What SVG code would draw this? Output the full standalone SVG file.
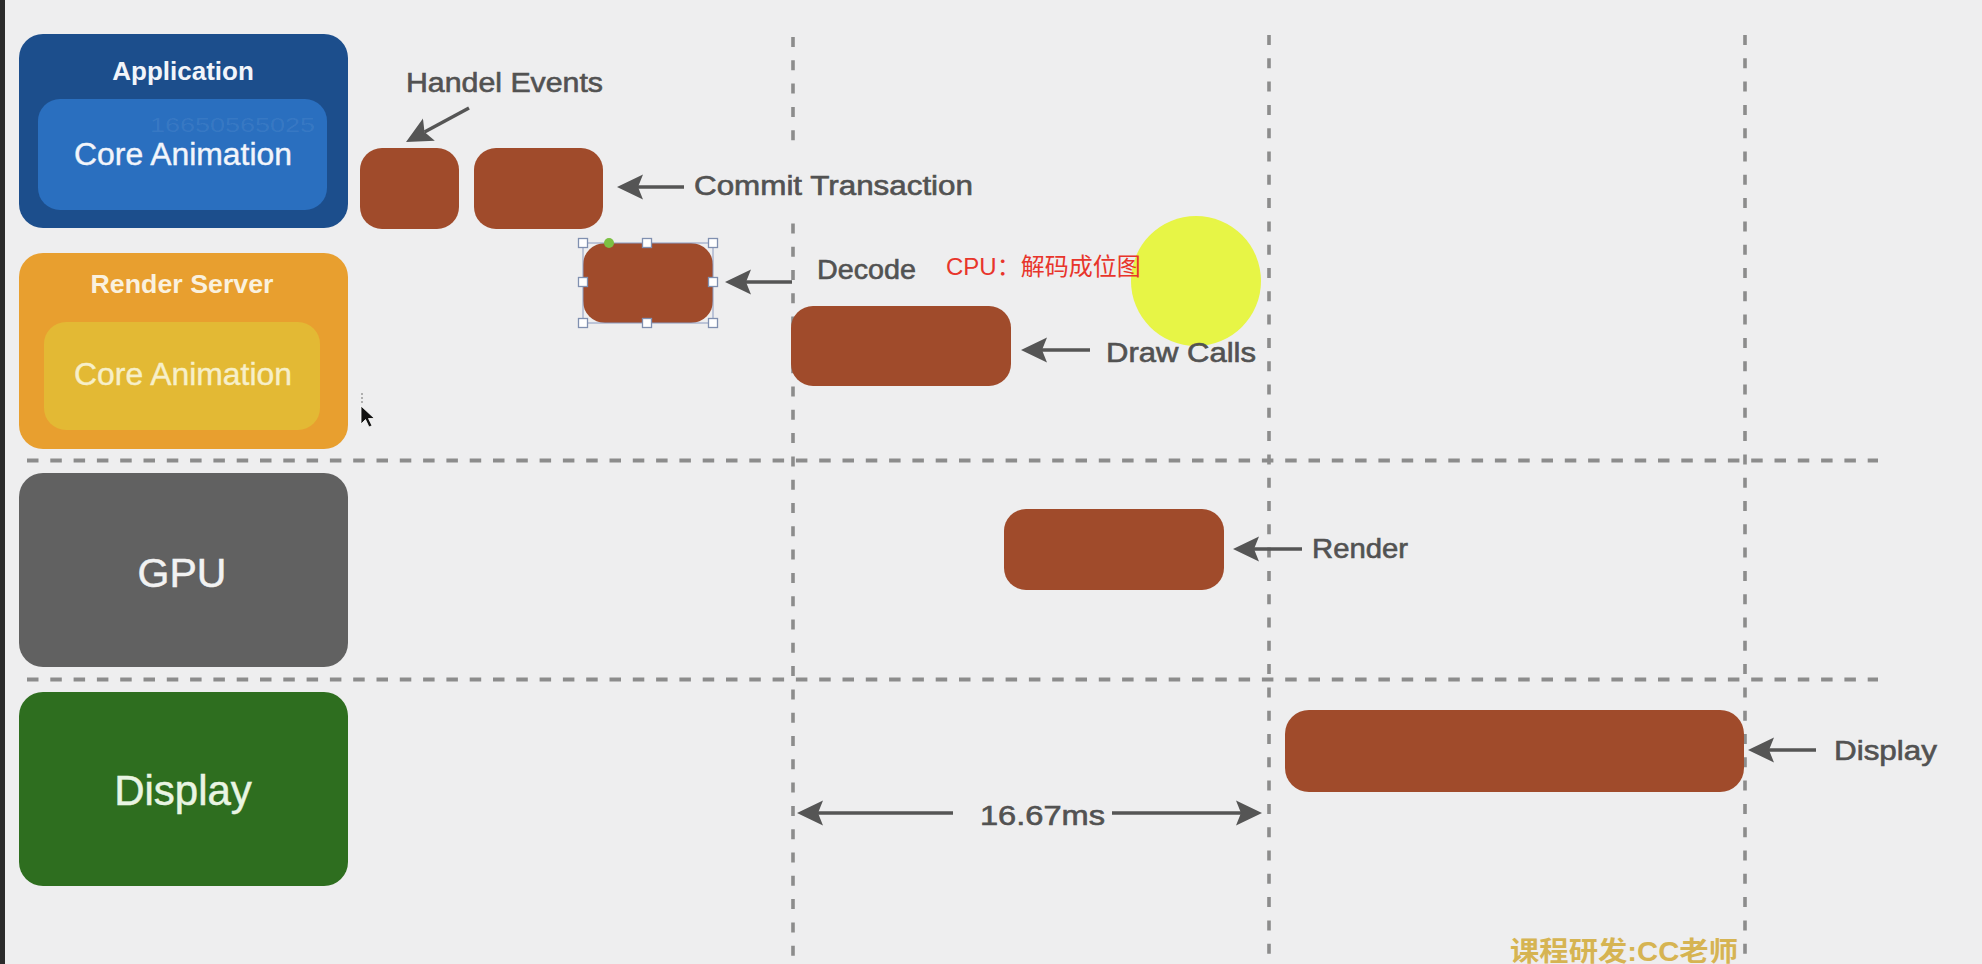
<svg xmlns="http://www.w3.org/2000/svg" width="1982" height="964" viewBox="0 0 1982 964">
<style>
.bg{fill:#eeeeef}
.hd{stroke:#8c8c8c;stroke-width:4.2;stroke-dasharray:11.5 11.8;fill:none}
.vd{stroke:#8c8c8c;stroke-width:3.6;stroke-dasharray:10 13.3;fill:none}
.bar{fill:#a04b2b}
.ttl{font-family:"Liberation Sans",Arial,sans-serif;text-anchor:middle}
.ann{font-family:"Liberation Sans",Arial,sans-serif;font-size:27px;fill:#525252;stroke:#525252;stroke-width:0.6}
.arr{stroke:#555555;stroke-width:3.5;fill:none;marker-end:url(#ah)}
.hdl{fill:#ffffff;stroke:#8090b0;stroke-width:1.3}
</style>
<defs>
<marker id="ah" viewBox="0 0 26 26" refX="5" refY="13" markerWidth="26" markerHeight="26" markerUnits="userSpaceOnUse" orient="auto">
<path d="M26,13 L0,0.5 L5,13 L0,25.5 Z" fill="#555555"/>
</marker>
</defs>
<rect class="bg" x="0" y="0" width="1982" height="964"/>
<rect x="0" y="0" width="5" height="964" fill="#2b2b2b"/>

<g id="grid">
<line class="hd" x1="27" y1="460.5" x2="1878" y2="460.5"/>
<line class="hd" x1="27" y1="679.5" x2="1878" y2="679.5"/>
<line class="vd" x1="793" y1="37" x2="793" y2="964"/>
<line class="vd" x1="1269" y1="35" x2="1269" y2="964"/>
<line class="vd" x1="1745" y1="35" x2="1745" y2="964"/>
</g>

<g id="application">
<rect x="19" y="34" width="329" height="194" rx="24" fill="#1c4e8c"/>
<rect x="38" y="99" width="289" height="111" rx="22" fill="#2a6fbf"/>
<text class="ttl" x="183" y="80" font-size="26" font-weight="bold" fill="#f2f5fa">Application</text>
<text x="150" y="132" font-family="Liberation Sans,Arial,sans-serif" font-size="21" fill="#ffffff" fill-opacity="0.07" textLength="165" lengthAdjust="spacingAndGlyphs">16650565025</text>
<text class="ttl" x="183" y="165" font-size="31" fill="#f2f5fb" stroke="#f2f5fb" stroke-width="0.4" textLength="218" lengthAdjust="spacingAndGlyphs">Core Animation</text>
</g>

<g id="render-server">
<rect x="19" y="253" width="329" height="196" rx="24" fill="#e89f2f"/>
<rect x="44" y="322" width="276" height="108" rx="22" fill="#e3b934"/>
<text class="ttl" x="182" y="293" font-size="25" font-weight="bold" fill="#faf1de" textLength="183" lengthAdjust="spacingAndGlyphs">Render Server</text>
<text class="ttl" x="183" y="385" font-size="31" fill="#f7efc9" stroke="#f7efc9" stroke-width="0.4" textLength="218" lengthAdjust="spacingAndGlyphs">Core Animation</text>
</g>

<g id="gpu">
<rect x="19" y="473" width="329" height="194" rx="24" fill="#616161"/>
<text class="ttl" x="182" y="587" font-size="41" fill="#f2f2f2" stroke="#f2f2f2" stroke-width="0.5">GPU</text>
</g>

<g id="display">
<rect x="19" y="692" width="329" height="194" rx="24" fill="#2e6e1f"/>
<text class="ttl" x="183" y="805" font-size="42" fill="#e9f5e3" stroke="#e9f5e3" stroke-width="0.5">Display</text>
</g>

<g id="bar-handle-events"><rect class="bar" x="360" y="148" width="99" height="81" rx="22"/></g>
<g id="bar-commit"><rect class="bar" x="474" y="148" width="129" height="81" rx="22"/></g>
<g id="bar-decode">
<rect class="bar" x="583" y="243" width="130" height="80" rx="22"/>
<rect x="583" y="243" width="130" height="80" fill="none" stroke="#8a9ac0" stroke-width="1"/>
<rect class="hdl" x="578.5" y="238.5" width="9" height="9"/>
<rect class="hdl" x="642.5" y="238.5" width="9" height="9"/>
<rect class="hdl" x="708.5" y="238.5" width="9" height="9"/>
<rect class="hdl" x="578.5" y="277.5" width="9" height="9"/>
<rect class="hdl" x="708.5" y="277.5" width="9" height="9"/>
<rect class="hdl" x="578.5" y="318.5" width="9" height="9"/>
<rect class="hdl" x="642.5" y="318.5" width="9" height="9"/>
<rect class="hdl" x="708.5" y="318.5" width="9" height="9"/>
<circle cx="609" cy="243" r="5" fill="#7cc043"/>
</g>
<g id="bar-draw-calls"><rect class="bar" x="791" y="306" width="220" height="80" rx="22"/></g>
<g id="bar-render"><rect class="bar" x="1004" y="509" width="220" height="81" rx="22"/></g>
<g id="bar-display"><rect class="bar" x="1285" y="710" width="459" height="82" rx="24"/></g>

<circle id="cursor-highlight" cx="1196" cy="281" r="65" fill="#e6f43c" fill-opacity="0.95"/>

<rect class="bg" x="688" y="152" width="292" height="67"/>

<g id="connectors">
<line class="arr" x1="469" y1="108" x2="424.5" y2="132"/>
<line class="arr" x1="684" y1="187" x2="638" y2="187"/>
<line class="arr" x1="792" y1="282" x2="746" y2="282"/>
<line class="arr" x1="1090" y1="350" x2="1042" y2="350"/>
<line class="arr" x1="1302" y1="549" x2="1254" y2="549"/>
<line class="arr" x1="1816" y1="750" x2="1769" y2="750"/>
<line class="arr" x1="953" y1="813" x2="818" y2="813"/>
<line class="arr" x1="1112" y1="813" x2="1241" y2="813"/>
</g>

<g id="labels">
<text class="ann" x="406" y="92" textLength="197" lengthAdjust="spacingAndGlyphs">Handel Events</text>
<text class="ann" x="694" y="195" textLength="279" lengthAdjust="spacingAndGlyphs">Commit Transaction</text>
<text class="ann" x="817" y="279" textLength="99" lengthAdjust="spacingAndGlyphs">Decode</text>
<text class="ann" x="1106" y="362" textLength="150" lengthAdjust="spacingAndGlyphs">Draw Calls</text>
<text class="ann" x="1312" y="558" textLength="96" lengthAdjust="spacingAndGlyphs">Render</text>
<text class="ann" x="1834" y="760" textLength="103" lengthAdjust="spacingAndGlyphs">Display</text>
<text class="ann" x="980" y="825" textLength="125" lengthAdjust="spacingAndGlyphs">16.67ms</text>
<text x="946" y="275" font-family="Liberation Sans,Noto Sans CJK SC,sans-serif" font-size="24" fill="#e8352b">CPU：解码成位图</text>
<text x="1510" y="961" font-family="Liberation Sans,Noto Sans CJK SC,sans-serif" font-size="27" font-weight="bold" fill="#d6b452" textLength="228" lengthAdjust="spacingAndGlyphs">课程研发:CC老师</text>
</g>

<g id="mouse-cursor">
<circle cx="362" cy="394" r="1" fill="#9a9a9a"/>
<circle cx="362" cy="398" r="1" fill="#9a9a9a"/>
<circle cx="362" cy="402" r="1" fill="#9a9a9a"/>
<path d="M361,406 L361,424 L365.5,419.5 L369,427 L372,425.7 L368.5,418.5 L374.5,418.5 Z" fill="#111111" stroke="#ffffff" stroke-width="0.8"/>
</g>
</svg>
